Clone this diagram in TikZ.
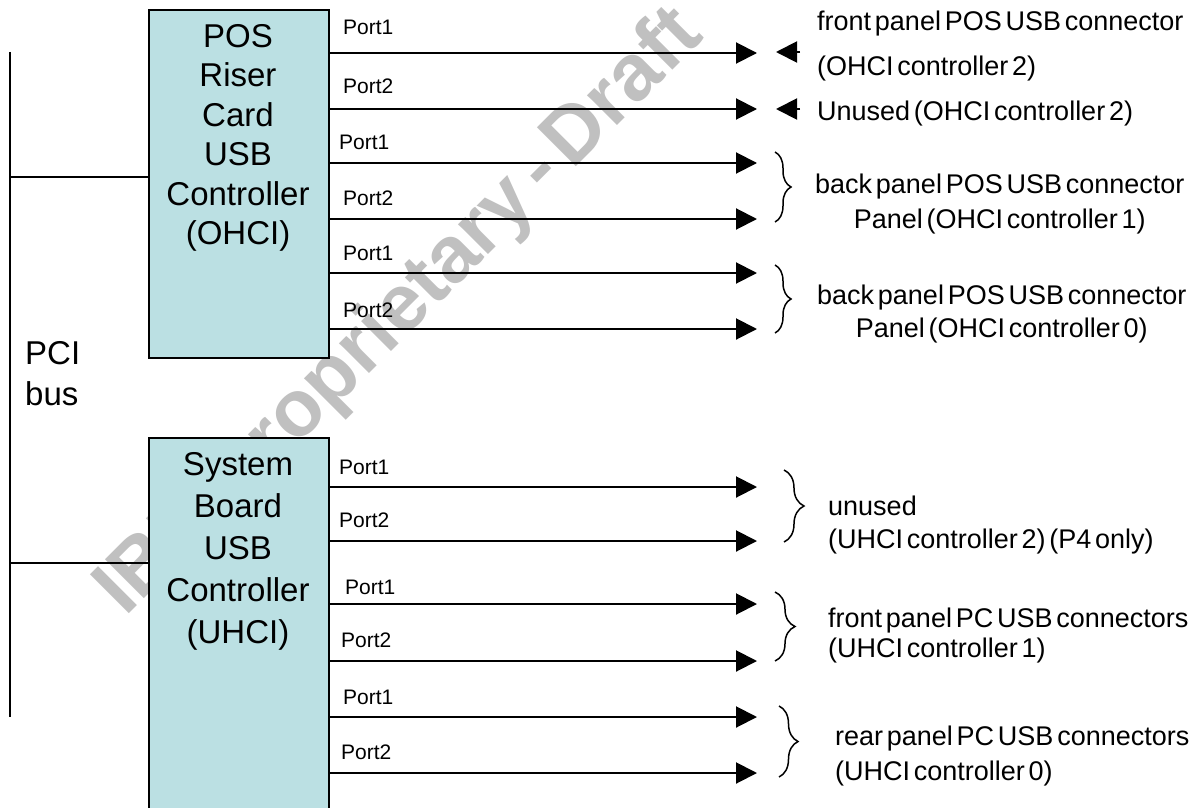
\documentclass[tikz,border=0pt]{standalone}
\usepackage{fontspec}
\setmainfont{Liberation Sans}[WordSpace=0.5]
\usetikzlibrary{positioning,arrows.meta,decorations.pathreplacing}

\definecolor{cardcyan}{HTML}{BBE0E3}
\definecolor{wmgray}{HTML}{C0C0C0}

\tikzset{
  cardbox/.style={draw, line width=2pt, fill=cardcyan, anchor=north west,
    minimum width=180pt, inner sep=0pt},
  cardtext/.style={align=center, inner sep=0pt, font=\fontsize{33}{39.5}\selectfont},
  portline/.style={line width=2pt, -{Triangle[length=21pt,width=21pt]}},
  portlabel/.style={anchor=base west, inner sep=0pt, font=\fontsize{21}{24}\selectfont},
  conntext/.style={anchor=base west, inner sep=0pt},
  grouping/.style={decorate, decoration={brace, amplitude=#1}, line width=1.5pt},
}

\begin{document}
\begin{tikzpicture}[x=1pt,y=-1pt]
  \useasboundingbox (0,0) rectangle (1204,808);

  % draft stamp behind everything
  \node[anchor=base west, rotate=45, inner sep=0pt, text=wmgray,
    font=\bfseries\fontsize{80}{80}\selectfont] (stamp) at (125,618) {IBM Proprietary - Draft};

  % the two controller cards
  \node[cardbox, minimum height=348pt] (riser) at (148,9) {};
  \node[cardbox, minimum height=400pt] (sysbrd) at (148,437) {};
  \node[cardtext] (risertxt) at (238,138) {POS\\Riser\\Card\\USB\\Controller\\(OHCI)};
  \node[cardtext, font=\fontsize{33}{42}\selectfont] (sysbrdtxt) at (238,551)
    {System\\Board\\USB\\Controller\\(UHCI)};

  % PCI bus
  \coordinate (busTop) at (10,52);
  \coordinate (busBot) at (10,717);
  \coordinate (tapA) at (10,177);
  \coordinate (tapB) at (10,563);
  \draw[line width=2pt] (busTop) -- (busBot);
  \draw[line width=2pt] (tapA) -- (tapA -| riser.west);
  \draw[line width=2pt] (tapB) -- (tapB -| sysbrd.west);
  \node[conntext, anchor=north west, align=left, font=\fontsize{33}{41}\selectfont]
    (pcibus) at (25,341) {PCI\\bus};

  % ports of the riser card
  \foreach \y/\lx/\ly/\p [count=\i] in {53/343/35/1, 109/343/93/2, 163/339/149/1,
      219/343/205/2, 273/343/260/1, 329/343/317/2} {
    \coordinate (rp\i) at (757,\y);
    \draw[portline] (riser.east |- rp\i) -- (rp\i);
    \node[portlabel] (rpl\i) at (\lx,\ly) {Port\p};
  }

  % ports of the system board
  \foreach \y/\lx/\ly/\p [count=\i] in {487/339/474/1, 541/339/527/2, 604/345/594/1,
      661/341/647/2, 717/343/704/1, 773/341/759/2} {
    \coordinate (sp\i) at (757,\y);
    \draw[portline] (sysbrd.east |- sp\i) -- (sp\i);
    \node[portlabel] (spl\i) at (\lx,\ly) {Port\p};
  }

  % front panel plugs
  \coordinate (plugA) at (800,52);
  \coordinate (plugB) at (800,109);
  \draw[portline] (plugA) -- ++(-24,0);
  \draw[portline] (plugB) -- ++(-24,0);

  \draw[grouping=16] (775,152) -- (775,222);
  \draw[grouping=16] (775,265) -- (775,333);
  \draw[grouping=20] (784,470) -- (784,542);
  \draw[grouping=20] (775,592) -- (775,661);
  \draw[grouping=19] (779,706) -- (779,777);

  % multi-line labels sit on their last baseline
  \node[conntext, align=left, font=\fontsize{27}{44}\selectfont] (frontpos) at (817,75)
    {front panel POS USB connector\\(OHCI controller 2)};
  \node[conntext, font=\fontsize{27}{33}\selectfont] (unusedpos) at (817,120)
    {Unused (OHCI controller 2)};
  \node[conntext, align=center, font=\fontsize{27}{35}\selectfont] (backpos1) at (815,228)
    {back panel POS USB connector\\Panel (OHCI controller 1)};
  \node[conntext, align=center, font=\fontsize{27}{33}\selectfont] (backpos0) at (817,337)
    {back panel POS USB connector\\Panel (OHCI controller 0)};
  \node[conntext, align=left, font=\fontsize{27}{33}\selectfont] (unusedpc) at (828,548)
    {unused\\(UHCI controller 2) (P4 only)};
  \node[conntext, align=left, font=\fontsize{27}{30}\selectfont] (frontpc) at (828,657)
    {front panel PC USB connectors\\(UHCI controller 1)};
  \node[conntext, align=left, font=\fontsize{27}{35}\selectfont] (rearpc) at (835,780)
    {rear panel PC USB connectors\\(UHCI controller 0)};
\end{tikzpicture}
\end{document}
